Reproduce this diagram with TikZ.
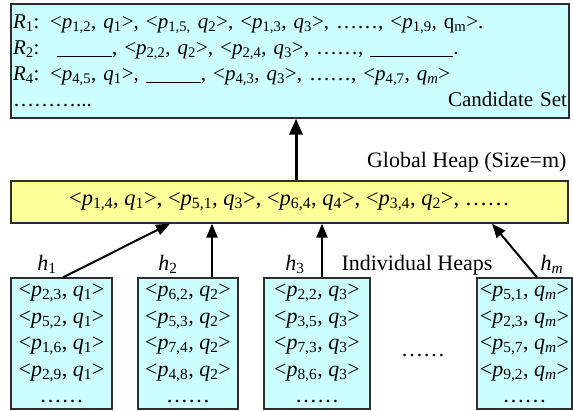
\documentclass[tikz,border=0pt]{standalone}
\usepackage{fontspec}
\setmainfont{Liberation Serif}
\usetikzlibrary{arrows.meta,positioning,calc}
\definecolor{cCyan}{RGB}{204,255,255}
\definecolor{cYellow}{RGB}{255,255,153}
\definecolor{cEdge}{RGB}{45,45,45}
\newcommand{\bigfont}{\fontsize{22}{26.5}\selectfont}
\newcommand{\candfont}{\fontsize{21}{26}\selectfont}
\newcommand{\pq}[2]{<\textit{p}\textsubscript{#1}, \textit{q}\textsubscript{#2}>}
\newcommand{\blank}[1]{\rule[-2pt]{#1}{0.9pt}}
\tikzset{
  cand/.style={draw=cEdge, fill=cCyan, line width=1.3pt, align=left,
               text width=554pt, minimum height=114pt, inner xsep=2pt,
               inner ysep=0pt, font=\candfont},
  gheap/.style={draw=cEdge, fill=cYellow, line width=1.3pt, minimum width=557pt,
                minimum height=42pt, inner sep=0pt, font=\fontsize{22.5}{26}\selectfont},
  iheap/.style={draw=cEdge, fill=cCyan, line width=1.3pt, align=center,
                minimum height=131pt, inner sep=0pt, font=\bigfont},
  lbl/.style={inner sep=0pt, font=\bigfont},
  arbig/.style={-{Triangle[length=16pt, width=13pt]}, line width=3pt},
  ar/.style={-{Triangle[length=14pt, width=11pt]}, line width=2.4pt},
}

\begin{document}
\begin{tikzpicture}[x=1pt, y=-1pt]
\useasboundingbox (0,0) rectangle (573,410);
% candidate set
\node[cand] (cset) at (290,61) {%
  \textit{R}\textsubscript{1}: \pq{1,2}{1}, <\textit{p}\textsubscript{1,5,} \textit{q}\textsubscript{2}>, \pq{1,3}{3}, \dots\dots, <\textit{p}\textsubscript{1,9}, q\textsubscript{m}>.\\
  \textit{R}\textsubscript{2}: \ \blank{55pt}, \pq{2,2}{2}, \pq{2,4}{3}, \dots\dots, \blank{83pt}.\\
  \textit{R}\textsubscript{4}: \pq{4,5}{1}, \blank{55pt}, \pq{4,3}{3}, \dots\dots, \pq{4,7}{\textit{m}}\\
  \dots\dots\dots...\hfill Candidate Set};

% global heap
\node[gheap] (ghp) at (289.5,202) {\pq{1,4}{1}, \pq{5,1}{3}, \pq{6,4}{4}, \pq{3,4}{2}, \dots\dots};
\node[lbl, anchor=south east] (glbl) at ([xshift=-2pt, yshift=8pt]ghp.north east) {Global Heap (Size=m)};
\draw[arbig] ([xshift=6.5pt]ghp.north) -- ([xshift=6.5pt]ghp.north |- cset.south);

% individual heaps: {name}{centre}{width}{q}{four p's}
\foreach \n/\cx/\w/\q/\pa/\pb/\pc/\pd in {
    1/61.5/101/1/{2,3}/{5,2}/{1,6}/{2,9},
    2/188/100/2/{6,2}/{5,3}/{7,4}/{4,8},
    3/317/106/3/{2,2}/{3,5}/{7,3}/{8,6},
    m/524.5/95/\textit{m}/{5,1}/{2,3}/{5,7}/{9,2}}
  \node[iheap, minimum width=\w pt] (ih\n) at (\cx,343.5)
    {\pq{\pa}{\q}\\ \pq{\pb}{\q}\\ \pq{\pc}{\q}\\ \pq{\pd}{\q}\\ \dots\dots};

\node[lbl] (h1) at ([xshift=-14.5pt, yshift=13pt]ih1.north) {\textit{h}\textsubscript{1}};
\node[lbl] (h2) at ([xshift=-20pt, yshift=13pt]ih2.north) {\textit{h}\textsubscript{2}};
\node[lbl] (h3) at ([xshift=-22pt, yshift=13pt]ih3.north) {\textit{h}\textsubscript{3}};
\node[lbl] (hm) at ([xshift=27.5pt, yshift=13pt]ihm.north) {\textit{h}\textsubscript{\textit{m}}};
\node[lbl] (indlbl) at (417,265) {Individual Heaps};
\node[lbl] (gapdots) at (423,356) {\dots\dots};

% heaps feed the global heap
\coordinate (t1) at ([xshift=-119.5pt]ghp.south);
\coordinate (tm) at ([xshift=202.5pt]ghp.south);
\draw[ar, line width=2pt] ([xshift=1.5pt]ih1.north) -- (t1);
\draw[ar] ([xshift=24pt]ih2.north) -- ([xshift=24pt]ih2.north |- ghp.south);
\draw[ar] ([xshift=5pt]ih3.north) -- ([xshift=5pt]ih3.north |- ghp.south);
\draw[ar, line width=2pt] ([xshift=12.5pt]ihm.north) -- (tm);
\end{tikzpicture}
\end{document}
